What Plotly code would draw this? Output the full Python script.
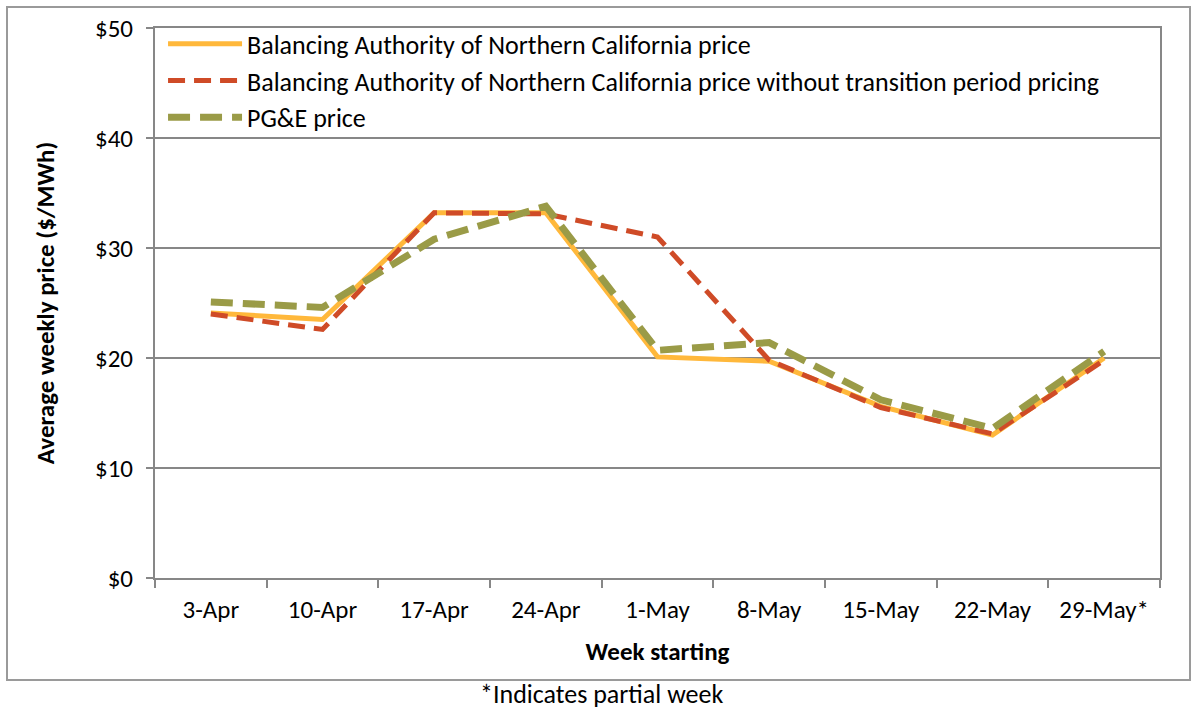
import plotly.graph_objects as go

weeks = ["3-Apr", "10-Apr", "17-Apr", "24-Apr", "1-May", "8-May", "15-May", "22-May", "29-May*"]
banc_price = [24.1, 23.5, 33.2, 33.2, 20.1, 19.7, 15.6, 13.0, 20.0]
banc_no_transition = [24.0, 22.6, 33.2, 33.1, 31.0, 19.8, 15.5, 13.1, 19.8]
pge_price = [25.1, 24.6, 30.8, 33.8, 20.7, 21.4, 16.2, 13.6, 20.6]
y_ticks = [0, 10, 20, 30, 40, 50]
y_tick_labels = ["$0", "$10", "$20", "$30", "$40", "$50"]

FONT = "Calibri, Carlito, Lato, sans-serif"
GRAY = "#878787"
FS = 25

fig = go.Figure()
fig.add_trace(go.Scatter(x=weeks, y=banc_price, mode="lines",
                         name="Balancing Authority of Northern California price",
                         line=dict(color="#FFB83B", width=5)))
fig.add_trace(go.Scatter(x=weeks, y=banc_no_transition, mode="lines",
                         name="Balancing Authority of Northern California price without transition period pricing",
                         line=dict(color="#CF4B27", width=5, dash="17px,9px")))
fig.add_trace(go.Scatter(x=weeks, y=pge_price, mode="lines",
                         name="PG&E price",
                         line=dict(color="#9A9B47", width=7, dash="22px,10px")))

W, H = 1198, 709
L, R, T, B = 155, 38, 28, 131
pw, ph = W - L - R, H - T - B

def px(x):
    return (x - L) / pw

def py(y):
    return (H - B - y) / ph

fig.update_layout(
    width=W, height=H,
    margin=dict(l=L, r=R, t=T, b=B),
    paper_bgcolor="white", plot_bgcolor="white",
    font=dict(family=FONT, size=FS, color="black"),
    showlegend=True,
    legend=dict(x=0.008, y=1.014, xanchor="left", yanchor="top",
                bgcolor="rgba(0,0,0,0)", font=dict(size=26),
                itemwidth=74, tracegroupgap=0),
    xaxis=dict(type="category", range=[-0.5, 8.5], showgrid=False, showline=True,
               linecolor=GRAY, linewidth=2, mirror=True, ticks="outside",
               tickson="boundaries", ticklen=8, tickcolor=GRAY, tickwidth=1.5,
               tickfont=dict(size=FS), ticklabelstandoff=8,
               title=dict(text="<b>Week starting</b>", font=dict(size=FS), standoff=18)),
    yaxis=dict(range=[0, 50], tickvals=y_ticks, ticktext=y_tick_labels,
               showgrid=True, gridcolor=GRAY, gridwidth=2, showline=True, linecolor=GRAY,
               linewidth=2, mirror=True, ticks="outside", ticklen=7, tickcolor=GRAY,
               tickwidth=1.5, tickfont=dict(size=FS), zeroline=False, ticklabelstandoff=8,
               title=dict(text="<b>Average weekly price ($/MWh)</b>", font=dict(size=FS), standoff=33)),
    shapes=[dict(type="rect", xref="paper", yref="paper",
                 x0=px(7), x1=px(1190), y0=py(680), y1=py(7),
                 line=dict(color="#9a9a9a", width=2), fillcolor="rgba(0,0,0,0)", layer="below")],
    annotations=[dict(text="*Indicates partial week", xref="paper", yref="paper",
                      x=px(601), y=py(694), xanchor="center", yanchor="middle",
                      showarrow=False, font=dict(size=26))],
)

fig.write_html("out.html", config={"displayModeBar": False},
               post_script="document.body.style.margin='0px';document.body.style.overflow='hidden';")
